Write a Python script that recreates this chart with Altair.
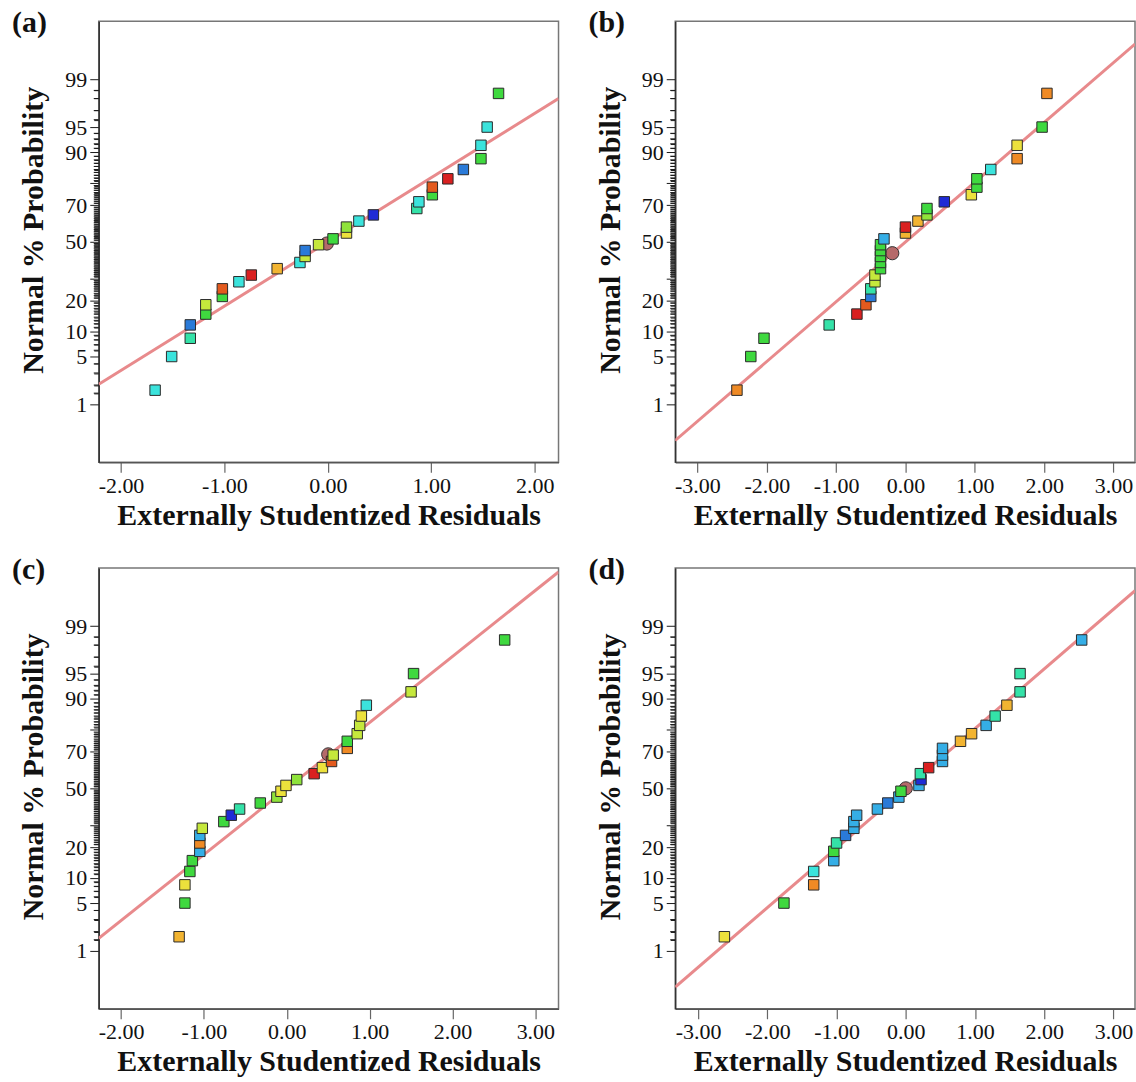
import statistics
import altair as alt
import pandas as pd

# ---------------- data ----------------
# cumulative normal % probability of the 30 ordered runs (same in every panel)
normal_pct = [1.67, 5.0, 8.33, 11.67, 15.0, 18.33, 21.67, 25.0, 28.33, 31.67,
              35.0, 38.33, 41.67, 45.0, 48.33, 51.67, 55.0, 58.33, 61.67, 65.0,
              68.33, 71.67, 75.0, 78.33, 81.67, 85.0, 88.33, 91.67, 95.0, 98.33]

resid_a = [-1.67, -1.51, -1.33, -1.33, -1.18, -1.18, -1.02, -1.02, -0.86, -0.74,
           -0.49, -0.27, -0.22, -0.22, -0.09, 0.05, 0.18, 0.18, 0.30, 0.44,
           0.86, 0.88, 1.01, 1.01, 1.16, 1.31, 1.48, 1.48, 1.54, 1.65]
color_a = ["cyan", "cyan", "turquoise", "blue", "green", "yellowgreen", "green", "orangered", "cyan", "red",
           "amber", "cyan", "yellowgreen", "blue", "yellowgreen", "green", "yellow", "lime", "cyan", "navy",
           "turquoise", "cyan", "green", "orangered", "red", "blue", "green", "cyan", "cyan", "green"]

resid_b = [-2.43, -2.23, -2.04, -1.10, -0.70, -0.57, -0.50, -0.50, -0.44, -0.44,
           -0.36, -0.36, -0.36, -0.36, -0.36, -0.31, 0.00, 0.00, 0.18, 0.31,
           0.31, 0.56, 0.95, 1.03, 1.03, 1.23, 1.61, 1.61, 1.97, 2.04]
color_b = ["orange", "green", "green", "turquoise", "red", "orangered", "blue", "turquoise", "yellowgreen", "yellowgreen",
           "green", "green", "green", "green", "green", "lightblue", "amber", "red", "amber", "lime",
           "green", "navy", "yellow", "green", "green", "cyan", "orange", "yellow", "green", "orange"]

resid_c = [-1.30, -1.23, -1.23, -1.17, -1.14, -1.05, -1.05, -1.05, -1.02, -0.76,
           -0.67, -0.57, -0.32, -0.12, -0.07, -0.01, 0.12, 0.33, 0.43, 0.54,
           0.56, 0.73, 0.73, 0.85, 0.88, 0.90, 0.96, 1.50, 1.53, 2.63]
color_c = ["amber", "green", "yellow", "green", "green", "lightblue", "orange", "lightblue", "yellowgreen", "green",
           "navy", "turquoise", "green", "lime", "yellow", "yellow", "lime", "red", "yellow", "orangered",
           "yellowgreen", "orange", "green", "yellowgreen", "yellowgreen", "yellow", "cyan", "yellowgreen", "green", "green"]

resid_d = [-2.62, -1.76, -1.33, -1.33, -1.04, -1.04, -1.00, -0.87, -0.75, -0.75,
           -0.71, -0.41, -0.26, -0.10, -0.07, 0.19, 0.22, 0.21, 0.33, 0.53,
           0.53, 0.53, 0.79, 0.95, 1.16, 1.29, 1.46, 1.65, 1.65, 2.54]
color_d = ["yellow", "green", "orange", "cyan", "lightblue", "green", "turquoise", "blue", "lightblue", "lightblue",
           "lightblue", "lightblue", "blue", "lightblue", "green", "lightblue", "navy", "turquoise", "red", "lightblue",
           "lightblue", "lightblue", "amber", "amber", "lightblue", "turquoise", "amber", "turquoise", "turquoise", "lightblue"]

# cursor point (x, %) of each panel
cursor_x = [-0.01, -0.19, 0.50, 0.00]
cursor_pct = [49.0, 43.5, 68.7, 50.0]

# reference line end points at the frame edges (x, %)
line_x = [[-2.215, 2.23], [-3.32, 3.31], [-2.27, 3.28], [-3.33, 3.31]]
line_pct = [[2.06, 98.0], [0.22, 99.77], [1.57, 99.904], [0.22, 99.77]]

x_domains = [[-2.215, 2.23], [-3.32, 3.31], [-2.27, 3.28], [-3.33, 3.31]]
x_ticks = [[-2, -1, 0, 1, 2], [-3, -2, -1, 0, 1, 2, 3], [-2, -1, 0, 1, 2, 3], [-3, -2, -1, 0, 1, 2, 3]]

panel_labels = ["(a)", "(b)", "(c)", "(d)"]

y_major_pct = [1, 5, 10, 20, 30, 50, 70, 80, 90, 95, 99]
y_label_pct = [1, 5, 10, 20, 50, 70, 90, 95, 99]
y_minor_pct = [p for p in [1.5] + list(range(2, 99)) + [98.5] if p not in y_major_pct]

palette = {
    "cyan": "#3be3dc", "turquoise": "#34e2a8", "green": "#3fd93f", "lime": "#8fe33a",
    "yellowgreen": "#c5e83c", "yellow": "#ece13c", "amber": "#f2b431", "orange": "#ef8a25",
    "orangered": "#e35a1e", "red": "#d92020", "lightblue": "#35aee6", "blue": "#2a7ad8",
    "navy": "#1f2bd6",
}

# ---------------- chart ----------------
FONT = "Liberation Serif"
W, H = 461, 442
Z_LIM = 3.16
MINOR_TICK = 5
nd = statistics.NormalDist()
all_tick_z = sorted(round(nd.inv_cdf(p / 100), 5) for p in y_major_pct + y_minor_pct)

pct_of = "round(cumulativeNormal(datum.value)*1000)/10"
y_axis = alt.Axis(
    orient="left",
    values=all_tick_z,
    labelExpr=f"indexof({y_label_pct}, {pct_of}) >= 0 ? '' + round(cumulativeNormal(datum.value)*100) : ''",
    tickSize={"condition": {"test": f"indexof({y_major_pct}, {pct_of}) >= 0", "value": 9},
              "value": MINOR_TICK},
    labelOverlap=False, labelBound=False, labelFlush=False,
    labelFont=FONT, labelFontSize=22, labelColor="#111", labelPadding=3,
    titleFont=FONT, titleFontSize=30, titleFontWeight="bold", titleColor="#111", titlePadding=16,
    titleY=H / 2 - 12,
    tickColor="#1a1a1a", tickWidth=1, domainColor="#333", domainWidth=1.5, grid=False,
)


def x_axis(ticks):
    return alt.Axis(
        values=ticks,
        labelExpr="(datum.value < 0 ? '-' : '') + format(abs(datum.value), '.2f')",
        labelOverlap=False, labelFlush=False, labelBound=False,
        tickSize=10, tickColor="#666", tickWidth=1.2, domainColor="#555", domainWidth=1.5,
        labelFont=FONT, labelFontSize=22, labelColor="#111", labelPadding=3,
        titleFont=FONT, titleFontSize=30, titleFontWeight="bold", titleColor="#111", titlePadding=4,
        grid=False,
    )


def panel(i, resid, colors):
    X = alt.X("resid:Q", scale=alt.Scale(domain=x_domains[i], nice=False, zero=False),
              axis=x_axis(x_ticks[i]), title="Externally Studentized Residuals")
    Y = alt.Y("z:Q", scale=alt.Scale(domain=[-Z_LIM, Z_LIM], nice=False, zero=False),
              axis=y_axis, title="Normal % Probability")
    zcalc = "quantileNormal(datum.pct / 100)"

    pts = pd.DataFrame({"resid": resid, "pct": normal_pct, "fill": [palette[c] for c in colors]})
    ln = pd.DataFrame({"resid": line_x[i], "pct": line_pct[i]})
    cur = pd.DataFrame({"resid": [cursor_x[i]], "pct": [cursor_pct[i]]})
    minor = pd.DataFrame({"pct": y_minor_pct, "panel": panel_labels[i]})

    # minor probability ticks on the left edge (also drawn as marks, through the y scale)
    minor_ticks = alt.Chart(minor).mark_rule(color="#1a1a1a", strokeWidth=1).transform_calculate(
        z=zcalc).encode(y=Y, x=alt.value(0), x2=alt.value(-MINOR_TICK))
    line = alt.Chart(ln).mark_line(color="#e88a8c", strokeWidth=3, clip=True).transform_calculate(
        z=zcalc).encode(x=X, y=Y)
    circ = alt.Chart(cur).mark_circle(size=175, color="#b56a6a", stroke="#333", strokeWidth=1,
                                      opacity=1).transform_calculate(z=zcalc).encode(x=X, y=Y)
    sq = alt.Chart(pts).mark_square(size=110, stroke="#2a2a2a", strokeWidth=1, opacity=1).transform_calculate(
        z=zcalc).encode(x=X, y=Y, fill=alt.Fill("fill:N", scale=None))

    return alt.layer(line, circ, sq, minor_ticks).properties(
        width=W, height=H,
        title=alt.TitleParams(panel_labels[i], anchor="start", frame="bounds", font=FONT, fontSize=30,
                              fontWeight="bold", color="#111", offset=0, dx=-7, dy=17),
    )


row1 = alt.hconcat(panel(0, resid_a, color_a), panel(1, resid_b, color_b), spacing=28)
row2 = alt.hconcat(panel(2, resid_c, color_c), panel(3, resid_d, color_d), spacing=28)

chart = alt.vconcat(row1, row2, spacing=23).properties(
    padding={"left": 11, "top": 6, "right": 0, "bottom": 0},
    background="white",
).configure_view(stroke="#777", strokeWidth=1.5)

chart.save("out.html", embed_options={"renderer": "svg", "actions": False})
